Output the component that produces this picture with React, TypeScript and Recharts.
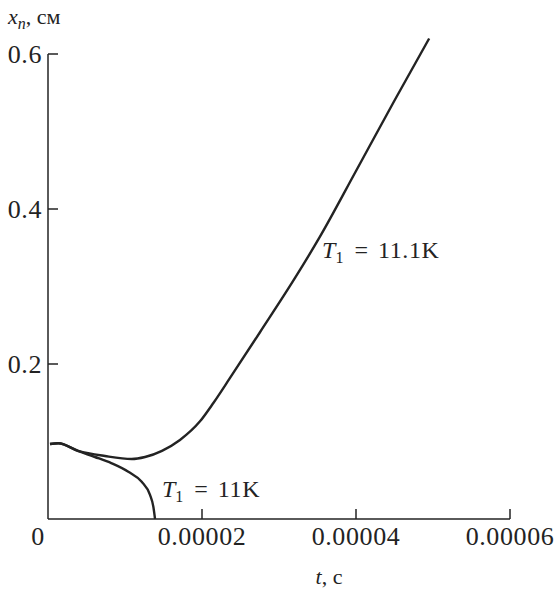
import { LineChart, Line, XAxis, YAxis, ReferenceLine, ReferenceDot } from "recharts";

// t, s  /  x_n, cm — curve for T1 = 11.1K
const T_WARM = [0.26e-6, 1.34e-6, 3.94e-6, 7.4e-6, 10.87e-6, 12.6e-6, 14.8e-6, 17.14e-6, 19.74e-6, 21.5e-6, 23.64e-6, 27.53e-6, 32.08e-6, 35.3e-6, 40e-6, 45e-6, 49.5e-6];
const X_WARM = [0.0968, 0.0977, 0.088, 0.0813, 0.0774, 0.08, 0.088, 0.102, 0.126, 0.15, 0.182, 0.241, 0.311, 0.364, 0.449, 0.54, 0.62];

// curve for T1 = 11K
const T_COLD = [0.26e-6, 1.34e-6, 3.94e-6, 6.1e-6, 8.27e-6, 10.43e-6, 12.17e-6, 13.25e-6, 13.68e-6, 13.9e-6];
const X_COLD = [0.0968, 0.0977, 0.0875, 0.08, 0.0719, 0.061, 0.048, 0.031, 0.016, 0];

const X_TICKS = [0, 0.00002, 0.00004, 0.00006];
const X_TICK_LABELS = ["0", "0.00002", "0.00004", "0.00006"];
const Y_TICKS = [0.2, 0.4, 0.6];
const Y_TICK_LABELS = ["0.2", "0.4", "0.6"];

const warm = T_WARM.map((t, i) => ({ t, x: X_WARM[i] }));
const cold = T_COLD.map((t, i) => ({ t, x: X_COLD[i] }));

const INK = "#232323";
const FONT = "'Liberation Serif', 'DejaVu Serif', serif";
// inward tick length, in data units (about 10px)
const TICK_DT = 1.3e-6;
const TICK_DX = 0.013;

const XTick = (props: any) => {
  const { x, y, payload } = props;
  const i = X_TICKS.indexOf(payload.value);
  return (
    <text x={payload.value === 0 ? x - 10 : x} y={y} dy="0.71em" textAnchor="middle" fontSize={26} letterSpacing={0.6} fontFamily={FONT} fill={INK}>
      {X_TICK_LABELS[i] ?? payload.value}
    </text>
  );
};

const YTick = (props: any) => {
  const { x, y, payload } = props;
  const i = Y_TICKS.indexOf(payload.value);
  return (
    <text x={x} y={y} dy="0.355em" textAnchor="end" fontSize={26} letterSpacing={0.6} fontFamily={FONT} fill={INK}>
      {Y_TICK_LABELS[i] ?? payload.value}
    </text>
  );
};

const curveLabel = (value: string) => (p: any) => {
  const vb = p.viewBox || {};
  return (
    <text x={vb.x} y={vb.y} fontSize={24} fontFamily={FONT} fill={INK}>
      <tspan fontStyle="italic">T</tspan>
      <tspan fontSize={16} dy={5}>1</tspan>
      <tspan dy={-5} dx={11}>=</tspan>
      <tspan dx={10} letterSpacing={0.6}>{value}</tspan>
    </text>
  );
};

export default function App() {
  return (
    <div style={{ position: "absolute", left: 0, top: 0, background: "#fff" }}>
      <LineChart width={554} height={589} margin={{ top: 23, right: 44, left: 0, bottom: 0 }}>
        <XAxis
          type="number"
          dataKey="t"
          domain={[0, 0.00006]}
          ticks={X_TICKS}
          allowDataOverflow
          height={70}
          stroke={INK}
          strokeWidth={1.5}
          tickLine={false}
          tickSize={0}
          tickMargin={8}
          tick={<XTick />}
          label={{
            content: () => (
              <text x={329} y={584} textAnchor="middle" fontSize={22} fontFamily={FONT} fill={INK}>
                <tspan fontStyle="italic">t</tspan>
                <tspan>, с</tspan>
              </text>
            ),
          }}
        />
        <YAxis
          type="number"
          domain={[0, 0.64]}
          ticks={Y_TICKS}
          allowDataOverflow
          width={48}
          axisLine={false}
          tickLine={false}
          tickSize={0}
          tickMargin={6}
          tick={<YTick />}
          label={{
            content: () => (
              <text x={8} y={24} fontSize={22} fontFamily={FONT} fill={INK}>
                <tspan fontStyle="italic">x</tspan>
                <tspan fontStyle="italic" fontSize={16} dy={5}>n</tspan>
                <tspan dy={-5}>, см</tspan>
              </text>
            ),
          }}
        />
        <ReferenceLine segment={[{ x: 0, y: 0 }, { x: 0, y: 0.6 }]} stroke={INK} strokeWidth={1.5} />
        {Y_TICKS.map((v) => (
          <ReferenceLine key={`y${v}`} segment={[{ x: 0, y: v }, { x: TICK_DT, y: v }]} stroke={INK} strokeWidth={1.5} />
        ))}
        {X_TICKS.filter((t) => t > 0).map((t) => (
          <ReferenceLine key={`x${t}`} segment={[{ x: t, y: 0 }, { x: t, y: TICK_DX }]} stroke={INK} strokeWidth={1.5} />
        ))}
        <Line data={warm} dataKey="x" type="monotone" stroke={INK} strokeWidth={2.4} dot={false} isAnimationActive={false} />
        <Line data={cold} dataKey="x" type="monotone" stroke={INK} strokeWidth={2.4} dot={false} isAnimationActive={false} />
        <ReferenceDot x={3.56e-5} y={0.337} r={0} fill="none" stroke="none" label={{ content: curveLabel("11.1K") }} />
        <ReferenceDot x={1.48e-5} y={0.028} r={0} fill="none" stroke="none" label={{ content: curveLabel("11K") }} />
      </LineChart>
    </div>
  );
}
